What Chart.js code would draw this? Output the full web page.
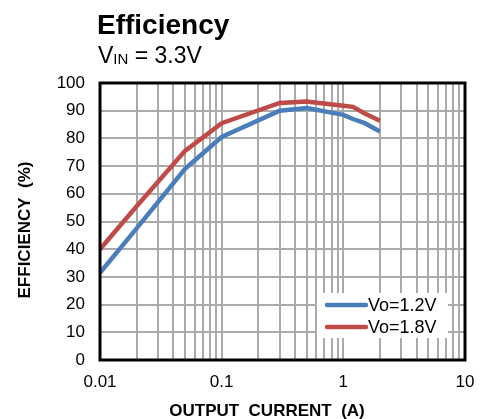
<!DOCTYPE html>
<html>
<head>
<meta charset="utf-8">
<script src="https://cdn.jsdelivr.net/npm/chart.js@4/dist/chart.umd.min.js"></script>
<style>
html,body{margin:0;padding:0;background:#fff;}
#wrap{position:relative;width:483px;height:419px;}
canvas{display:block;}
</style>
</head>
<body>
<div id="wrap"><canvas id="c" width="483" height="419"></canvas></div>
<script>
const currents = [0.01, 0.02, 0.05, 0.1, 0.3, 0.5, 1, 1.2, 1.5, 2];
const eff12 = [31.5, 47.5, 69, 80.5, 90, 91, 88.5, 87, 85.5, 82.5];
const eff18 = [40, 55.5, 75.5, 85.5, 92.8, 93.3, 91.8, 91.4, 89, 86.4];
const seriesNames = ['Vo=1.2V', 'Vo=1.8V'];
const seriesColors = ['#4A7EBB', '#BE4B48'];
const xMajorTicks = [0.01, 0.1, 1, 10];
const yTicks = [0,10,20,30,40,50,60,70,80,90,100];
const titleText = 'Efficiency';
const xTitle = 'OUTPUT  CURRENT  (A)';
const yTitle = 'EFFICIENCY  (%)';

const FONT = '"Liberation Sans", Arial, sans-serif';

function pts(vals){ return currents.map((x,i)=>({x:x,y:vals[i]})); }

const decorPlugin = {
  id: 'decor',
  afterDraw(chart){
    const ctx = chart.ctx;
    const a = chart.chartArea;
    ctx.save();
    // frame
    ctx.strokeStyle = '#000';
    ctx.lineWidth = 3;
    ctx.strokeRect(a.left, a.top, a.right - a.left, a.bottom - a.top);
    // title
    ctx.fillStyle = '#000';
    ctx.textBaseline = 'alphabetic';
    ctx.textAlign = 'left';
    ctx.font = 'bold 28px ' + FONT;
    ctx.fillText(titleText, 97, 34);
    // subtitle V_IN = 3.3V
    ctx.font = '23px ' + FONT;
    ctx.fillText('V', 98, 63);
    let w = ctx.measureText('V').width;
    ctx.font = '15px ' + FONT;
    ctx.fillText('IN', 98 + w, 64);
    let w2 = ctx.measureText('IN').width;
    ctx.font = '23px ' + FONT;
    ctx.fillText(' = 3.3V', 98 + w + w2, 63);
    // axis titles
    ctx.font = 'bold 17px ' + FONT;
    ctx.textAlign = 'center';
    ctx.textBaseline = 'middle';
    ctx.fillText(xTitle, 267, 411);
    ctx.save();
    ctx.translate(25, 230);
    ctx.rotate(-Math.PI/2);
    ctx.fillText(yTitle, 0, 0);
    ctx.restore();
    // legend
    const lx = 317, ly = 293, lw = 131, lh = 45;
    ctx.fillStyle = '#fff';
    ctx.fillRect(lx, ly, lw, lh);
    ctx.font = '18px ' + FONT;
    ctx.textAlign = 'left';
    ctx.textBaseline = 'middle';
    const rows = [305, 327];
    for (let i = 0; i < 2; i++){
      ctx.strokeStyle = seriesColors[i];
      ctx.lineWidth = 4.5;
      ctx.lineCap = 'round';
      ctx.beginPath();
      ctx.moveTo(327, rows[i]);
      ctx.lineTo(366, rows[i]);
      ctx.stroke();
      ctx.fillStyle = '#000';
      ctx.fillText(seriesNames[i], 368, rows[i] + 1);
    }
    ctx.restore();
  }
};

new Chart(document.getElementById('c'), {
  type: 'line',
  data: {
    datasets: [
      { label: seriesNames[0], data: pts(eff12), borderColor: seriesColors[0], backgroundColor: seriesColors[0], borderWidth: 4.5, pointRadius: 0, tension: 0, fill: false },
      { label: seriesNames[1], data: pts(eff18), borderColor: seriesColors[1], backgroundColor: seriesColors[1], borderWidth: 4.5, pointRadius: 0, tension: 0, fill: false }
    ]
  },
  options: {
    responsive: false,
    animation: false,
    devicePixelRatio: 1,
    layout: { padding: { top: 83, right: 18, left: 0, bottom: 0 } },
    plugins: { legend: { display: false }, title: { display: false }, tooltip: { enabled: false } },
    scales: {
      x: {
        type: 'logarithmic',
        min: 0.01, max: 10,
        afterBuildTicks(scale){
          const t = [];
          for (let e = -2; e <= 0; e++){
            for (let m = 1; m <= 9; m++){
              t.push({ value: parseFloat((m * Math.pow(10, e)).toPrecision(3)) });
            }
          }
          t.push({ value: 10 });
          scale.ticks = t;
        },
        afterFit(scale){ scale.height = 59; scale.paddingLeft = 0; scale.paddingRight = 0; },
        grid: { color: '#aaaaaa', lineWidth: 2, drawTicks: false },
        border: { display: false },
        ticks: {
          autoSkip: false, maxRotation: 0, padding: 12,
          color: '#000', font: { family: FONT, size: 17 },
          callback(v){ return xMajorTicks.includes(v) ? String(v) : ''; }
        }
      },
      y: {
        type: 'linear',
        min: 0, max: 100,
        afterBuildTicks(scale){ scale.ticks = yTicks.map(v => ({ value: v })); },
        afterFit(scale){ scale.width = 100; scale.paddingTop = 0; scale.paddingBottom = 0; },
        grid: { color: '#aaaaaa', lineWidth: 2, drawTicks: false },
        border: { display: false },
        ticks: { padding: 15, color: '#000', font: { family: FONT, size: 17 } }
      }
    }
  },
  plugins: [decorPlugin]
});
</script>
</body>
</html>
